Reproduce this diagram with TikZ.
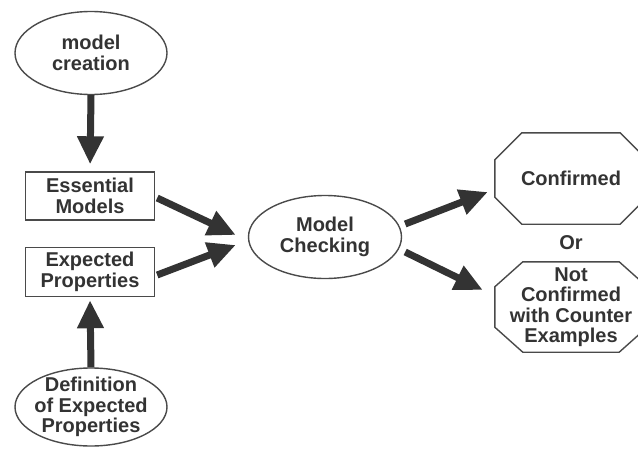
\documentclass[tikz,border=0pt]{standalone}
\usepackage{fontspec}
\setmainfont{Liberation Sans}
\usetikzlibrary{shapes.geometric,arrows.meta,calc}
\definecolor{ink}{HTML}{333333}
\definecolor{edge}{HTML}{4A4A4A}
\tikzset{
  lbl/.style={font=\fontsize{20}{20.5}\selectfont\bfseries, text=ink, align=center, inner sep=0pt},
  oval/.style={lbl, ellipse, draw=edge, line width=1.4pt, fill=white},
  boxnode/.style={lbl, rectangle, draw=edge, line width=1.4pt, fill=white},
  octa/.style={lbl, rectangle, minimum width=152pt},
  outline/.style={draw=edge, line width=1.4pt, line join=miter},
  fatarrow/.style={draw=ink, line width=7pt,
    -{Triangle[width=25pt,length=28pt,fill=ink]}}
}
% octagon drawn round the bounding rectangle of a node: #1 node, #2 corner cut in x, #3 in y
\newcommand{\octaround}[3]{%
  \draw[outline]
    ($(#1.north west)+(#2,0)$) -- ($(#1.north east)+(-#2,0)$) --
    ($(#1.north east)+(0,#3)$) -- ($(#1.south east)+(0,-#3)$) --
    ($(#1.south east)+(-#2,0)$) -- ($(#1.south west)+(#2,0)$) --
    ($(#1.south west)+(0,-#3)$) -- ($(#1.north west)+(0,#3)$) -- cycle;}
\begin{document}
\begin{tikzpicture}[x=1pt,y=-1pt]
  \useasboundingbox (0,0) rectangle (638,450);
  % input side
  \node[oval, minimum width=152pt, minimum height=83pt] (create) at (91,53) {model\\creation};
  \node[boxnode, minimum width=129pt, minimum height=48pt] (ess) at (90,196) {Essential\\Models};
  \node[boxnode, minimum width=129pt, minimum height=49pt] (exp) at (90,272) {Expected\\Properties};
  \node[oval, minimum width=152pt, minimum height=78pt, inner xsep=-13pt, inner ysep=-8pt]
    (def) at (91,407) {Definition\\of Expected\\Properties};
  % checker
  \node[oval, minimum width=153pt, minimum height=83pt] (check) at (325,237) {Model\\Checking};
  % outcomes
  \node[octa, minimum height=91pt] (conf) at (571,178.5) {Confirmed};
  \octaround{conf}{27}{27}
  \node[lbl] (or) at (571,243) {Or};
  \node[octa, minimum height=90pt] (notconf) at (571,307) {Not\\Confirmed\\with Counter\\Examples};
  \octaround{notconf}{28}{25}
  % connectors
  \draw[fatarrow, shorten >=7pt] (create.south) -- (ess.north);
  \draw[fatarrow, shorten >=3pt] (def.north) -- (exp.south);
  \draw[fatarrow] ($(ess.east)+(2,2)$) -- ($(check.west)+(-12,-2)$);
  \draw[fatarrow] ($(exp.east)+(2,3)$) -- ($(check.west)+(-12,8)$);
  \draw[fatarrow] ($(check.east)+(3,-13)$) -- ($(conf.west)+(-7,13.5)$);
  \draw[fatarrow] ($(check.east)+(3,15)$) -- ($(notconf.west)+(-12,-17)$);
\end{tikzpicture}
\end{document}
